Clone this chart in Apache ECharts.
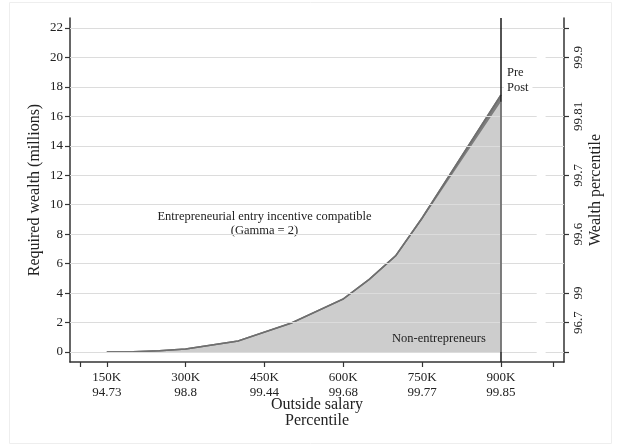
<!DOCTYPE html>
<html>
<head>
<meta charset="utf-8">
<script src="https://cdn.jsdelivr.net/npm/echarts@6/dist/echarts.min.js"></script>
<style>
  html, body { margin: 0; padding: 0; background: #ffffff; }
  #chart { width: 621px; height: 447px; }
</style>
</head>
<body>
<div id="chart"></div>
<script>
// Outside salary (thousands) at which required wealth is evaluated
const salaryK = [150, 200, 250, 300, 400, 500, 600, 650, 700, 750, 900];
// Required wealth (millions), before and after the change
const preWealth  = [0, 0.02, 0.08, 0.2, 0.75, 1.95, 3.6, 4.95, 6.55, 9.1, 17.45];
const postWealth = [0, 0.02, 0.08, 0.2, 0.75, 1.95, 3.6, 4.95, 6.5, 9.0, 17.0];

// Bottom axis ticks: salary and the matching income percentile
const salaryTicks = [150, 300, 450, 600, 750, 900];
const salaryPercentiles = ['94.73', '98.8', '99.44', '99.68', '99.77', '99.85'];
const salaryMinorTicks = [100, 150, 300, 450, 600, 750, 900, 1000];

// Left axis ticks (millions)
const wealthTicks = [0, 2, 4, 6, 8, 10, 12, 14, 16, 18, 20, 22];
// Right axis: wealth levels and their wealth percentile
const pctTickValues = [2, 4, 8, 12, 16, 20];
const pctTickLabels = ['96.7', '99', '99.6', '99.7', '99.81', '99.9'];
const pctAllTicks = [0, 2, 4, 8, 12, 16, 20, 22];

// Where the 900K cut-off sits
const cutoffK = 900;

const FONT = 'Liberation Serif';
const ink = '#222';
const gridColor = '#dcdcdc';

const chart = echarts.init(document.getElementById('chart'), null, { renderer: 'canvas' });

const pairs = (xs, ys) => xs.map((x, i) => [x, ys[i]]);

// Horizontal grid: right-axis tick rows get a short break just inside the right axis
const X_MIN = 80, X_MAX = 1020, BREAK_FROM = 968, BREAK_TO = 985;
const gridSegments = [];
wealthTicks.forEach(v => {
  const broken = pctAllTicks.indexOf(v) >= 0 && v !== 22;
  if (broken) {
    gridSegments.push([{ coord: [X_MIN, v] }, { coord: [BREAK_FROM, v] }]);
    gridSegments.push([{ coord: [BREAK_TO, v] }, { coord: [X_MAX, v] }]);
  } else {
    gridSegments.push([{ coord: [X_MIN, v] }, { coord: [X_MAX, v] }]);
  }
});

const option = {
  backgroundColor: '#ffffff',
  animation: false,
  textStyle: { fontFamily: FONT },
  grid: { left: 70, right: 57, top: 18, bottom: 85, containLabel: false },
  xAxis: {
    type: 'value',
    min: X_MIN,
    max: X_MAX,
    name: 'Outside salary\nPercentile',
    nameLocation: 'middle',
    nameGap: 35,
    nameMoveOverlap: false,
    nameTextStyle: { fontFamily: FONT, fontSize: 16, color: ink, lineHeight: 16, verticalAlign: 'top' },
    axisLine: { show: true, onZero: false, lineStyle: { color: '#333', width: 1.5 } },
    axisTick: { show: true, length: 5, customValues: salaryMinorTicks, lineStyle: { color: '#333', width: 1.2 } },
    axisLabel: {
      customValues: salaryTicks,
      fontFamily: FONT, fontSize: 13, color: ink, lineHeight: 15, margin: 8,
      formatter: v => {
        const i = salaryTicks.indexOf(v);
        return i < 0 ? '' : v + 'K\n' + salaryPercentiles[i];
      }
    },
    splitLine: { show: false }
  },
  yAxis: [
    {
      type: 'value',
      min: -0.68,
      max: 22.68,
      name: 'Required wealth (millions)',
      nameLocation: 'middle',
      nameGap: 27,
      nameMoveOverlap: false,
      nameRotate: 90,
      nameTextStyle: { fontFamily: FONT, fontSize: 16, color: ink },
      axisLine: { show: true, onZero: false, lineStyle: { color: '#333', width: 1.5 } },
      axisTick: { show: true, length: 5, customValues: wealthTicks, lineStyle: { color: '#333', width: 1.2 } },
      axisLabel: { customValues: wealthTicks, fontFamily: FONT, fontSize: 13, color: ink, margin: 7 },
      splitLine: { show: false }
    },
    {
      type: 'value',
      position: 'right',
      min: -0.68,
      max: 22.68,
      name: 'Wealth percentile',
      nameLocation: 'middle',
      nameGap: 24,
      nameMoveOverlap: false,
      nameRotate: 90,
      nameTextStyle: { fontFamily: FONT, fontSize: 16, color: ink },
      axisLine: { show: true, onZero: false, lineStyle: { color: '#333', width: 1.5 } },
      axisTick: { show: true, length: 5, customValues: pctAllTicks, lineStyle: { color: '#333', width: 1.2 } },
      axisLabel: {
        customValues: pctTickValues,
        rotate: 90,
        fontFamily: FONT, fontSize: 13, color: ink, margin: 8,
        formatter: v => {
          const i = pctTickValues.indexOf(v);
          return i < 0 ? '' : pctTickLabels[i];
        }
      },
      splitLine: { show: false }
    }
  ],
  series: [
    {
      // horizontal reference lines plus the cut-off line
      type: 'line',
      data: [],
      silent: true,
      markLine: {
        silent: true,
        symbol: 'none',
        label: { show: false },
        lineStyle: { color: gridColor, width: 1, type: 'solid' },
        data: gridSegments.concat([{ xAxis: cutoffK, lineStyle: { color: '#1a1a1a', width: 1.5, type: 'solid' } }])
      }
    },
    {
      name: 'Pre',
      type: 'line',
      data: pairs(salaryK, preWealth),
      showSymbol: false,
      lineStyle: { color: '#6f6f6f', width: 1.6 },
      areaStyle: { color: '#7d7d7d', opacity: 1, origin: 0 }
    },
    {
      name: 'Post',
      type: 'line',
      data: pairs(salaryK, postWealth),
      showSymbol: false,
      lineStyle: { width: 0 },
      areaStyle: { color: '#cdcdcd', opacity: 1, origin: 0 },
      markLine: {
        silent: true,
        symbol: 'none',
        label: { show: false },
        lineStyle: { color: '#8c8c8c', width: 1.5, type: 'solid' },
        data: [[{ coord: [cutoffK, 0] }, { coord: [cutoffK, postWealth[postWealth.length - 1]] }]]
      }
    },
    {
      // boundary of the Pre curve on top of the fills
      type: 'line',
      data: pairs(salaryK, preWealth),
      showSymbol: false,
      silent: true,
      lineStyle: { color: '#6f6f6f', width: 1.4 }
    }
  ]
};

chart.setOption(option);

// Text annotations placed in data coordinates
const at = (x, y) => chart.convertToPixel({ xAxisIndex: 0, yAxisIndex: 0 }, [x, y]);
const pCompat = at(450, 8.7);
const pNon = at(782, 0.88);
const pLegend = at(cutoffK, 18.45);

chart.setOption({
  graphic: [
    {
      type: 'rect', silent: true, z: -10,
      shape: { x: 9.5, y: 2.5, width: 602, height: 441 },
      style: { fill: 'none', stroke: '#eeeeee', lineWidth: 1 }
    },
    {
      type: 'text', silent: true,
      x: pCompat[0], y: pCompat[1],
      style: {
        text: 'Entrepreneurial entry incentive compatible\n(Gamma = 2)',
        font: '12.5px "Liberation Serif"', fill: ink, align: 'center', verticalAlign: 'middle', lineHeight: 14
      }
    },
    {
      type: 'text', silent: true, z: 10,
      x: pNon[0], y: pNon[1],
      style: { text: 'Non-entrepreneurs', font: '12.5px "Liberation Serif"', fill: ink, align: 'center', verticalAlign: 'middle' }
    },
    {
      type: 'text', silent: true, z: 10,
      x: pLegend[0] + 3, y: pLegend[1],
      style: {
        text: 'Pre\nPost', font: '12.5px "Liberation Serif"', fill: ink, align: 'left', verticalAlign: 'middle',
        lineHeight: 15, backgroundColor: '#ffffff', padding: [1, 4, 1, 3]
      }
    }
  ]
});
</script>
</body>
</html>
